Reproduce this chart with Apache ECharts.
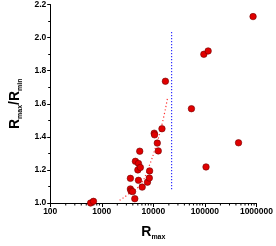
<!DOCTYPE html>
<html>
<head>
<meta charset="utf-8">
<script src="https://cdn.jsdelivr.net/npm/echarts@6/dist/echarts.min.js"></script>
<style>html,body{margin:0;padding:0;background:#fff}#c{width:276px;height:246px}</style>
</head>
<body>
<div id="c"></div>
<script>
// Scatter data: [Rmax, Rmax/Rmin]
const rmax = [607, 690, 3590, 3590, 3700, 3960, 4370, 4490, 5150, 5010, 5600, 5450, 5150, 6080, 7690, 8360, 8470, 10400, 10560, 11930, 12470, 14700, 17140, 54800, 95400, 115600, 105200, 449000, 859000];
const ratio = [1.0, 1.01, 1.149, 1.085, 1.073, 1.069, 1.026, 1.252, 1.239, 1.20, 1.215, 1.313, 1.137, 1.096, 1.126, 1.151, 1.194, 1.422, 1.412, 1.362, 1.315, 1.449, 1.736, 1.570, 1.899, 1.919, 1.218, 1.364, 2.127];
// Red dotted trend curve
const trendX = [2220, 3500, 5660, 8020, 11330, 14960, 18870];
const trendY = [1.016, 1.06, 1.114, 1.212, 1.348, 1.484, 1.636];
// Blue dotted vertical marker
const vlineX = [22600, 22600];
const vlineY = [1.083, 2.04];
// Axis tick values
const yTicks = [1.0, 1.2, 1.4, 1.6, 1.8, 2.0, 2.2];
const xMajor = [100, 1000, 10000, 100000, 1000000];
const xMinor = [];
for (let d = 100; d < 1000000; d *= 10) for (let k = 2; k <= 9; k++) xMinor.push(d * k);

const chart = echarts.init(document.getElementById('c'));
const fontFam = 'Liberation Sans, Arial, sans-serif';
chart.setOption({
  animation: false,
  grid: {left: 36, right: 18, top: 4, bottom: 36.5},
  xAxis: {
    type: 'log', logBase: 10, min: xMajor[0], max: xMajor[xMajor.length - 1],
    axisLine: {lineStyle: {color: '#000', width: 1}},
    axisTick: {length: 4, lineStyle: {color: '#000'}},
    axisLabel: {color: '#000', fontSize: 8.5, fontWeight: 'bold', fontFamily: fontFam, margin: 4,
      formatter: v => String(Math.round(v))},
    splitLine: {show: false},
    name: '{b|R}{s|max}', nameLocation: 'middle', nameGap: 21,
    nameTextStyle: {rich: {
      b: {fontSize: 14, fontWeight: 'bold', fontFamily: fontFam, color: '#000'},
      s: {fontSize: 7, fontWeight: 'bold', fontFamily: fontFam, color: '#000', padding: [10, 0, 0, 0]}
    }}
  },
  yAxis: {
    type: 'value', min: yTicks[0], max: yTicks[yTicks.length - 1], interval: 0.2,
    axisLine: {show: true, lineStyle: {color: '#000', width: 1}},
    axisTick: {show: true, length: 3, lineStyle: {color: '#000'}},
    minorTick: {show: true, splitNumber: 2, length: 2, lineStyle: {color: '#000'}},
    axisLabel: {color: '#000', fontSize: 8.5, fontWeight: 'bold', fontFamily: fontFam, margin: 4,
      formatter: v => v.toFixed(1)},
    splitLine: {show: false},
    name: '{b|R}{s|max}{b|/R}{s|min}', nameLocation: 'middle', nameGap: 25,
    nameTextStyle: {rich: {
      b: {fontSize: 14, fontWeight: 'bold', fontFamily: fontFam, color: '#000'},
      s: {fontSize: 7, fontWeight: 'bold', fontFamily: fontFam, color: '#000', padding: [10, 0, 0, 0]}
    }}
  },
  series: [
    {
      type: 'custom', clip: false, silent: true,
      data: xMinor.map(v => [v, yTicks[0]]),
      renderItem: (params, api) => {
        const p = api.coord([api.value(0), api.value(1)]);
        return {type: 'line', shape: {x1: p[0], y1: p[1], x2: p[0], y2: p[1] + 2.5},
          style: {stroke: '#000', lineWidth: 1}};
      }
    },
    {
      type: 'line', data: trendX.map((x, i) => [x, trendY[i]]), smooth: true, symbol: 'none',
      lineStyle: {color: '#ff3030', width: 1.2, type: [1.2, 2.4]}, z: 1
    },
    {
      type: 'line', data: vlineX.map((x, i) => [x, vlineY[i]]), symbol: 'none',
      lineStyle: {color: '#3030ff', width: 1.2, type: [1.2, 1.8]}, z: 1
    },
    {
      type: 'scatter', data: rmax.map((x, i) => [x, ratio[i]]), symbolSize: 6.5,
      itemStyle: {color: '#e00000', borderColor: '#700000', borderWidth: 0.6, opacity: 1}, z: 3
    }
  ]
});
</script>
</body>
</html>
